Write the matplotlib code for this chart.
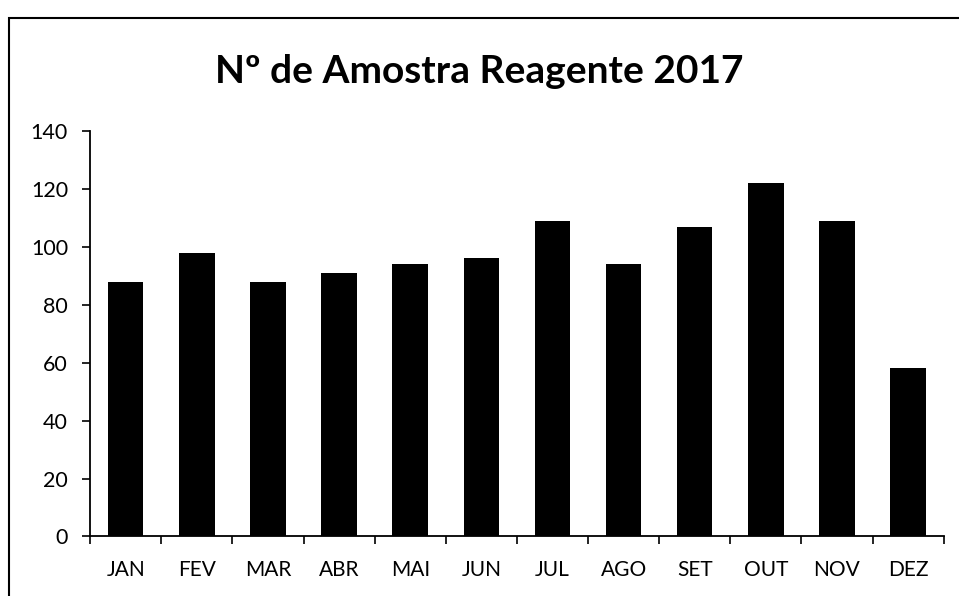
import matplotlib
matplotlib.use("Agg")
import matplotlib.pyplot as plt
from matplotlib.patches import Rectangle
import numpy as np

plt.rcParams['font.family'] = ['Lato', 'DejaVu Sans']

meses = ["JAN", "FEV", "MAR", "ABR", "MAI", "JUN", "JUL", "AGO", "SET", "OUT", "NOV", "DEZ"]
amostras = [88, 98, 88, 91, 94, 96, 109, 94, 107, 122, 109, 58]

fig = plt.figure(figsize=(9.59, 5.96), dpi=100)
ax = fig.add_axes([0.094, 0.1, 0.89, 0.68])

x = np.arange(len(meses))
ax.bar(x, amostras, width=0.5, color="black")

ax.set_xlim(-0.5, len(meses) - 0.5)
ax.set_ylim(0, 140)
ax.set_yticks(range(0, 141, 20))
ax.set_xticks(x)
ax.set_xticklabels(meses, fontsize=15)
ax.set_xticks(np.arange(-0.5, len(meses)), minor=True)
ax.tick_params(axis="x", which="major", length=0, pad=17)
ax.tick_params(axis="x", which="minor", length=6, width=1.2, direction="out")
ax.tick_params(axis="y", length=6, width=1.2, labelsize=15.5, pad=10)
for s in ["top", "right"]:
    ax.spines[s].set_visible(False)
for s in ["left", "bottom"]:
    ax.spines[s].set_linewidth(1.3)

fig.text(0.5, 0.88, "Nº de Amostra Reagente 2017", ha="center", va="center",
         fontsize=28, fontweight="bold")

# moldura do grafico
fig.patches.append(Rectangle((0.009, -0.02), 1.2, 0.99, transform=fig.transFigure,
                             fill=False, edgecolor="black", linewidth=1.5))

fig.savefig("out.png", dpi=100)
